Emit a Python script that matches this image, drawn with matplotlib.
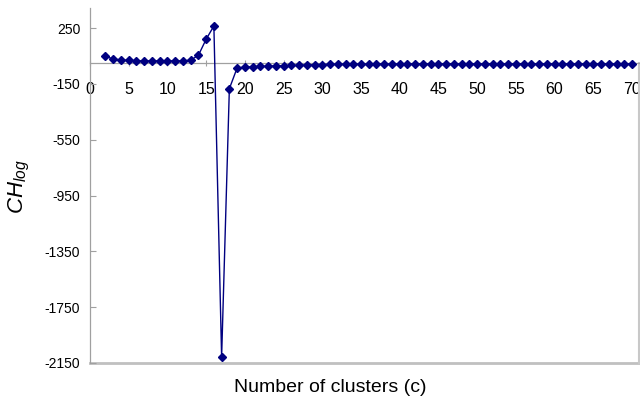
import matplotlib.pyplot as plt

plt.rcParams['font.family'] = ['Liberation Sans', 'DejaVu Sans']
plt.rcParams['mathtext.fontset'] = 'custom'
plt.rcParams['mathtext.it'] = 'Liberation Sans:italic'
plt.rcParams['mathtext.rm'] = 'Liberation Sans'

# number of clusters c and the CH_log index
clusters = list(range(2, 71))
ch_head = [48, 28, 22, 18, 15, 15, 15, 15, 15, 15, 15, 20, 55, 170, 265,
           -2107, -184, -36]
ch_mid = [-29, -27, -25, -23, -21, -20, -18, -16, -14, -12, -11, -10]
ch_tail = [-9, -9, -8, -8, -8, -7, -7, -7, -7, -6, -6, -6, -6, -6, -6, -6,
           -6, -6, -6, -6, -6, -6, -6, -6, -6, -6, -6, -6, -6, -6, -6, -6,
           -6, -6, -6, -6, -6, -6, -6]
ch_log = ch_head + ch_mid + ch_tail

x_ticks = list(range(0, 75, 5))
y_ticks = [250, -150, -550, -950, -1350, -1750, -2150]

fig = plt.figure(figsize=(6.4, 4.04), dpi=100)
ax = fig.add_axes([0.1406, 0.1015, 0.8578, 0.8787])

line_col = '#000080'
ax.plot(clusters[:len(ch_log)], ch_log, color=line_col, lw=1.0,
        marker='D', ms=4.5, mec=line_col, mfc=line_col, zorder=3)

ax.set_xlim(0, 70.9)
ax.set_ylim(-2150, 394)

grey = '#a0a0a0'
ax.spines['top'].set_visible(False)
ax.spines['bottom'].set_position(('data', 0))
for s in ('left', 'right', 'bottom'):
    ax.spines[s].set_color(grey)
    ax.spines[s].set_linewidth(0.9)
ax.axhline(-2150, color='#c0c0c0', lw=2.0, clip_on=False, zorder=1)
ax.spines['right'].set_color('#c8c8c8')
ax.spines['right'].set_linewidth(1.5)
ax.spines['right'].set_bounds(-2150, 0)

ax.set_xticks(x_ticks)
ax.set_yticks(y_ticks)
ax.set_yticklabels([str(v) for v in y_ticks])
ax.tick_params(axis='x', direction='inout', length=5, color=grey,
               labelsize=11.5, pad=11)
ax.tick_params(axis='y', direction='in', length=4, color=grey,
               labelsize=10, pad=7)

ax.set_ylabel(r'$\mathit{CH}_{\mathit{log}}$', fontsize=16)
ax.yaxis.set_label_coords(-0.105, 0.496)
fig.text(0.516, 0.03, 'Number of clusters (c)', ha='center', fontsize=14)

fig.savefig('out.png', dpi=100)
